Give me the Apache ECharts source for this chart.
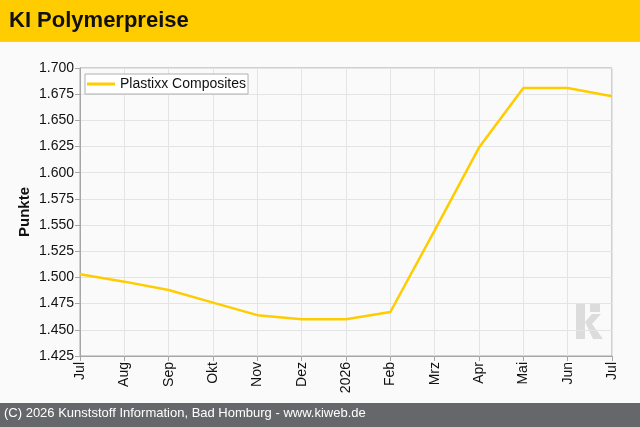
<!DOCTYPE html>
<html><head><meta charset="utf-8">
<script src="https://cdn.jsdelivr.net/npm/echarts@6/dist/echarts.min.js"></script>
<style>html,body{margin:0;padding:0;background:#fafafa}#c{width:640px;height:427px}</style>
</head><body><div id="c"></div>
<script>
var categories = ['Jul','Aug','Sep','Okt','Nov','Dez','2026','Feb','Mrz','Apr','Mai','Jun','Jul'];
var seriesName = 'Plastixx Composites';
var values = [1503,1496,1488,1476,1464,1460,1460,1467,1545,1624,1681,1681,1673];
var yMin = 1425, yMax = 1700, yStep = 25;
var titleText = 'KI Polymerpreise';
var yAxisTitle = 'Punkte';
var footerText = '(C) 2026 Kunststoff Information, Bad Homburg - www.kiweb.de';

var chart = echarts.init(document.getElementById('c'));
var F = 'Arial, "Liberation Sans", sans-serif';
chart.setOption({
  backgroundColor: '#fafafa',
  animation: false,
  textStyle: {fontFamily: F},
  graphic: [
    {type:'rect', shape:{x:0,y:0,width:640,height:41}, style:{fill:'#ffcc00'}, z:-1},
    {type:'rect', shape:{x:0,y:41,width:640,height:1}, style:{fill:'#c8c8c8'}, z:-1},
    {type:'text', left:9, top:10, style:{text:titleText, font:'bold 22px '+F, fill:'#111'}},
    {type:'rect', shape:{x:0,y:403,width:640,height:24}, style:{fill:'#66676b'}, z:-1},
    {type:'text', left:4, top:407, style:{text:footerText, font:'13px '+F, fill:'#fff'}},
    {type:'group', z:-1, children:[
      {type:'rect', shape:{x:576,y:303,width:9,height:36}, style:{fill:'#dcdcdc'}},
      {type:'rect', shape:{x:590,y:303,width:10,height:9}, style:{fill:'#dcdcdc'}},
      {type:'polygon', shape:{points:[[585,322],[592,314],[601,314],[592,324],[603,339],[593,339]]}, style:{fill:'#dcdcdc'}}
    ]}
  ],
  grid: {left:80, right:28, top:68, bottom:71, show:true, borderColor:'#a6a6a6', borderWidth:1, backgroundColor:'transparent'},
  legend: {
    left:85, top:74, padding:[2,2,2,2], itemWidth:28, itemHeight:3, itemGap:6,
    backgroundColor:'#ffffff', borderColor:'#b0b0b0', borderWidth:1, borderRadius:0,
    textStyle:{fontSize:14, color:'#111', fontFamily:F, lineHeight:16},
    data:[{name:seriesName, icon:'rect'}]
  },
  xAxis: {
    type:'category', data:categories, boundaryGap:false,
    axisLine:{lineStyle:{color:'#a6a6a6'}},
    axisTick:{show:true, alignWithLabel:true, length:5, lineStyle:{color:'#a6a6a6'}},
    axisLabel:{rotate:90, fontSize:14, color:'#111', margin:6, interval:0},
    splitLine:{show:true, lineStyle:{color:'#e4e4e4'}}
  },
  yAxis: {
    type:'value', min:yMin, max:yMax, interval:yStep,
    name:yAxisTitle, nameLocation:'middle', nameGap:48, nameRotate:90, nameMoveOverlap:false,
    nameTextStyle:{fontSize:15, fontWeight:'bold', color:'#111'},
    axisLine:{show:true, lineStyle:{color:'#a6a6a6'}},
    axisTick:{show:true, length:5, lineStyle:{color:'#a6a6a6'}},
    axisLabel:{fontSize:14, color:'#111', margin:6, formatter:function(v){return (v/1000).toFixed(3);}},
    splitLine:{show:true, lineStyle:{color:'#e4e4e4'}}
  },
  series: [{
    name:seriesName, type:'line', data:values, symbol:'none', smooth:false,
    lineStyle:{color:'#ffcc00', width:2.5}, itemStyle:{color:'#ffcc00'}
  }]
});
</script></body></html>
